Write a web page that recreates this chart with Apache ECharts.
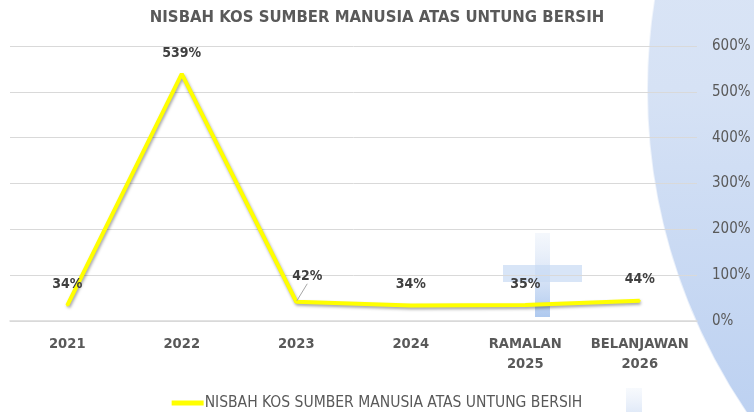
<!DOCTYPE html>
<html>
<head>
<meta charset="utf-8">
<script src="https://cdn.jsdelivr.net/npm/echarts@6/dist/echarts.min.js"></script>
<style>
  html, body { margin: 0; padding: 0; background: #ffffff; }
  #chart { width: 754px; height: 412px; }
</style>
</head>
<body>
<div id="chart"></div>
<script>
// Chart data
const titleText = 'NISBAH KOS SUMBER MANUSIA ATAS UNTUNG BERSIH';
const seriesName = 'NISBAH KOS SUMBER MANUSIA ATAS UNTUNG BERSIH';
const categories = ['2021', '2022', '2023', '2024', 'RAMALAN\n2025', 'BELANJAWAN\n2026'];
const ratioValues = [34, 539, 42, 34, 35, 44];
const yTicks = { min: 0, max: 600, interval: 100 };

const FONT = "'DejaVu Sans Condensed', 'DejaVu Sans', sans-serif";
const TEXT_GREY = '#595959';

const chart = echarts.init(document.getElementById('chart'), null, { renderer: 'canvas' });

// Per-point data: the 2023 label sits to the upper right, joined by a short guide line
const seriesData = ratioValues.map((v, i) => {
  if (i === 2) {
    return { value: v, labelLine: { show: true } };
  }
  return { value: v };
});

chart.setOption({
  animation: false,
  backgroundColor: '#ffffff',
  title: {
    text: titleText,
    left: 'center',
    top: 4,
    textStyle: { fontFamily: FONT, fontSize: 16.6, fontWeight: 'bold', color: TEXT_GREY }
  },
  legend: {
    left: 'center',
    top: 390,
    icon: 'rect',
    itemWidth: 32,
    itemHeight: 5,
    itemGap: 10,
    textStyle: { fontFamily: FONT, fontSize: 15.5, color: TEXT_GREY, padding: [0, 0, 0, -4] }
  },
  grid: { left: 10, right: 57, top: 46, bottom: 91 },
  xAxis: {
    type: 'category',
    data: categories,
    boundaryGap: true,
    axisLine: { show: true, lineStyle: { color: '#d9d9d9', width: 1.5 } },
    axisTick: { show: false },
    axisLabel: {
      fontFamily: FONT, fontSize: 14.6, fontWeight: 'bold', color: TEXT_GREY,
      margin: 13, lineHeight: 20, interval: 0
    }
  },
  yAxis: {
    type: 'value',
    position: 'right',
    min: yTicks.min,
    max: yTicks.max,
    interval: yTicks.interval,
    axisLine: { show: false },
    axisTick: { show: false },
    splitLine: { lineStyle: { color: '#d9d9d9', width: 1 } },
    axisLabel: {
      fontFamily: FONT, fontSize: 15, color: TEXT_GREY, margin: 15,
      formatter: v => v + '%'
    }
  },
  graphic: {
    elements: [
      {
        // pale blue disc behind the right side of the plot
        type: 'circle',
        z: -10,
        silent: true,
        shape: { cx: 1220, cy: 90, r: 573 },
        style: {
          fill: new echarts.graphic.LinearGradient(0, 0, 0, 1, [
            { offset: 0, color: '#e6edf8' },
            { offset: 0.5, color: '#d6e2f5' },
            { offset: 1, color: '#a9c4ee' }
          ]),
          stroke: 'rgba(255,255,255,0.6)',
          lineWidth: 2
        }
      },
      {
        // cross ornament, vertical bar
        type: 'rect',
        z: -9,
        silent: true,
        shape: { x: 535, y: 233, width: 15, height: 84 },
        style: {
          fill: new echarts.graphic.LinearGradient(0, 0, 0, 1, [
            { offset: 0, color: 'rgba(220,230,246,0.3)' },
            { offset: 1, color: 'rgba(170,198,238,0.95)' }
          ])
        }
      },
      {
        // cross ornament, horizontal bar
        type: 'rect',
        z: -9,
        silent: true,
        shape: { x: 503, y: 265, width: 79, height: 17 },
        style: { fill: 'rgba(200,218,243,0.7)' }
      },
      {
        // second cross, only the top of its vertical bar is in view
        type: 'rect',
        z: -9,
        silent: true,
        shape: { x: 626, y: 388, width: 16, height: 24 },
        style: {
          fill: new echarts.graphic.LinearGradient(0, 0, 0, 1, [
            { offset: 0, color: 'rgba(235,241,250,0.4)' },
            { offset: 1, color: 'rgba(225,234,248,1)' }
          ])
        }
      }
    ]
  },
  series: [
    {
      name: seriesName,
      type: 'line',
      data: seriesData,
      smooth: false,
      symbol: 'circle',
      symbolSize: 2,
      itemStyle: { color: '#ffff00' },
      lineStyle: {
        color: '#ffff00',
        width: 4,
        shadowColor: 'rgba(0,0,0,0.35)',
        shadowBlur: 3,
        shadowOffsetX: 1,
        shadowOffsetY: 2
      },
      label: {
        show: true,
        position: 'top',
        distance: 13,
        fontFamily: FONT,
        fontSize: 14,
        fontWeight: 'bold',
        color: '#404040',
        formatter: p => p.value + '%'
      },
      labelLine: { show: false, lineStyle: { color: '#a6a6a6', width: 1 } },
      labelLayout: function (params) {
        if (params.dataIndex === 2) {
          return { dx: 11, dy: -4 };
        }
        return {};
      }
    }
  ]
});
</script>
</body>
</html>
